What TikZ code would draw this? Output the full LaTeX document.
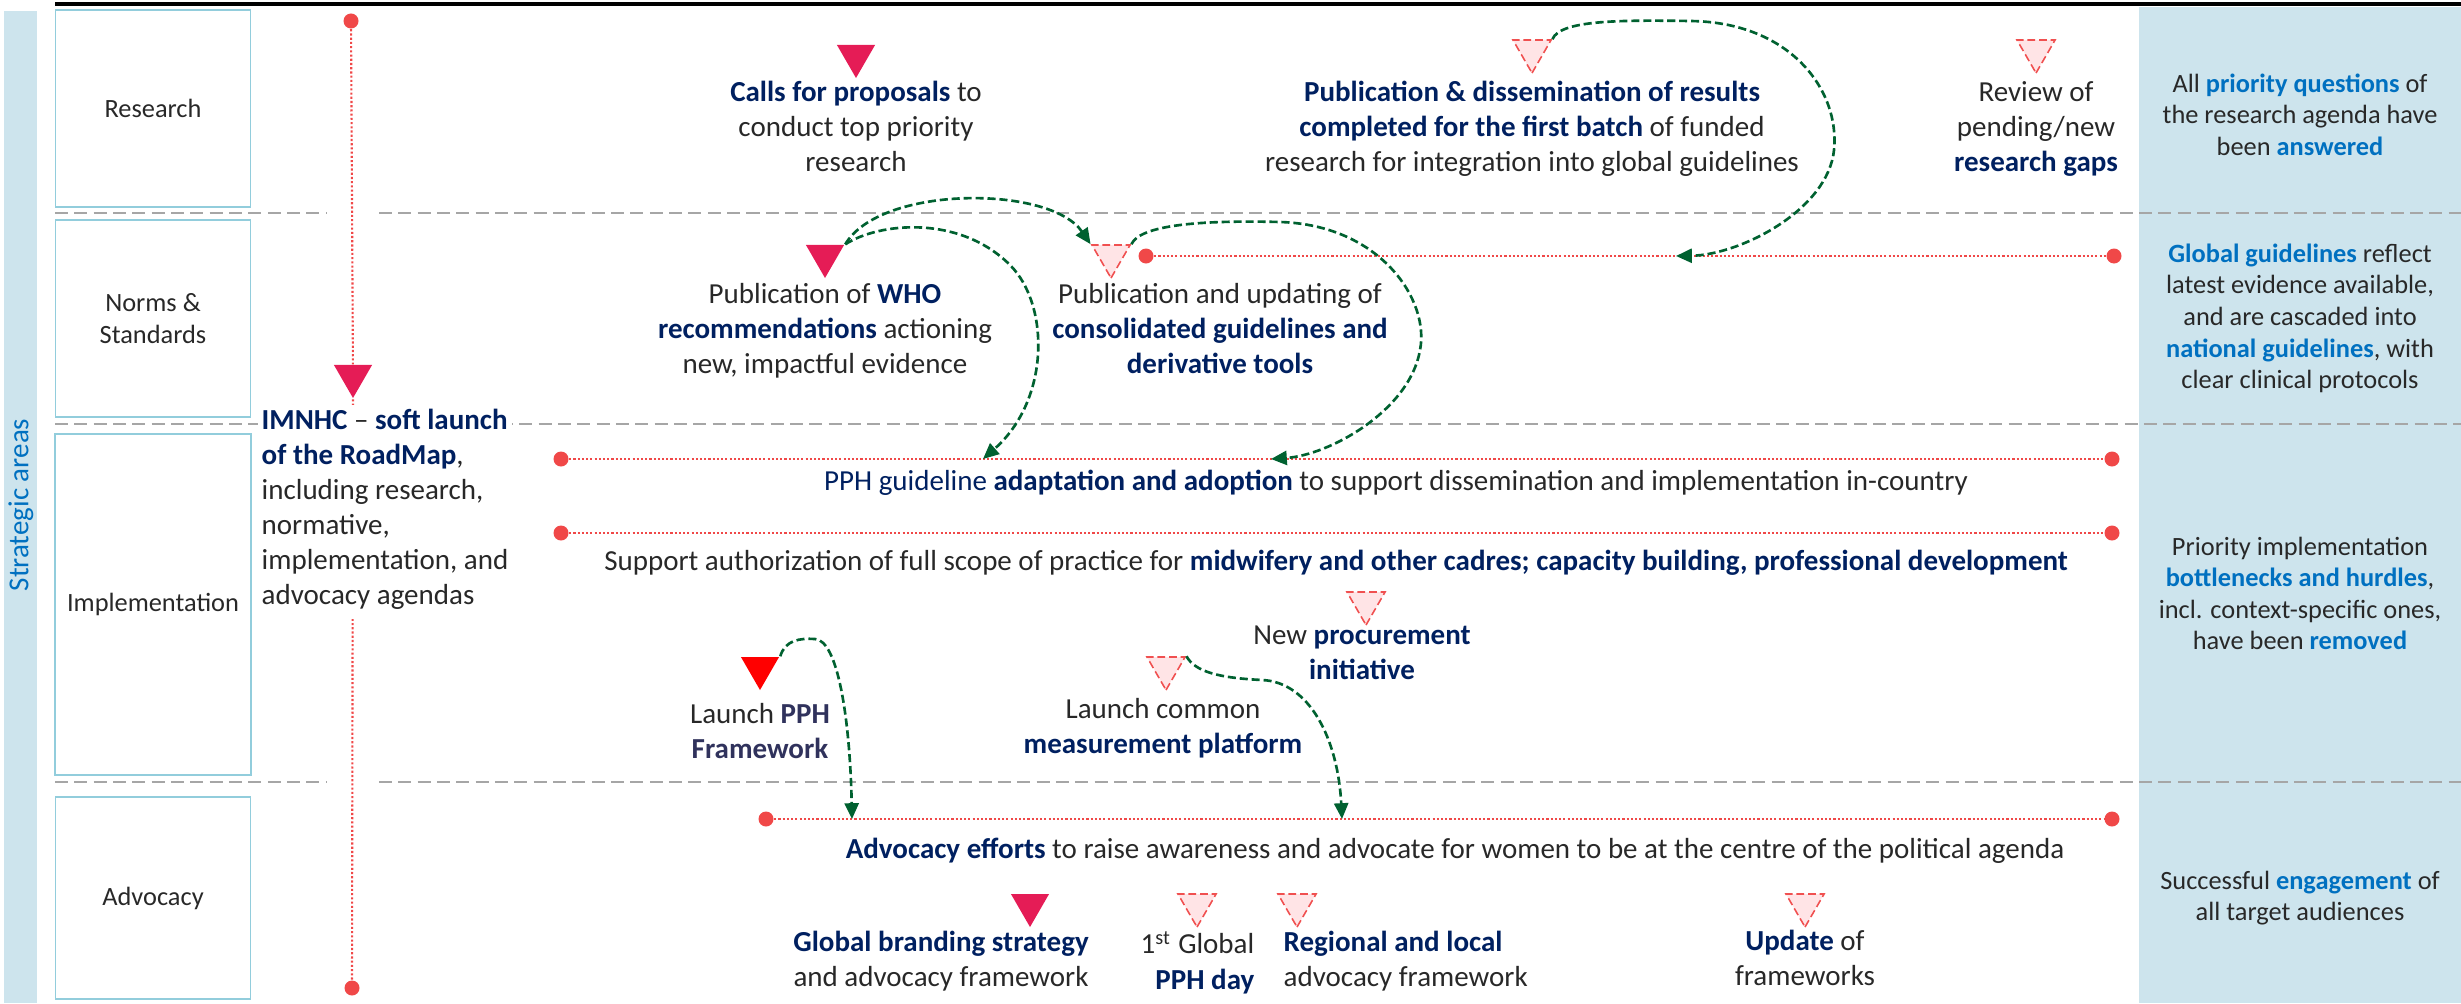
\documentclass[tikz,border=0pt]{standalone}
\usepackage{fontspec}
\setmainfont{Carlito}
\usepackage{tikz}
\usetikzlibrary{positioning, shapes, arrows.meta}
\usepackage{xcolor}

\definecolor{navy}{RGB}{0,32,96}
\definecolor{slate}{RGB}{48,50,92}
\definecolor{hiblue}{RGB}{0,112,192}
\definecolor{txtgray}{RGB}{40,40,40}
\definecolor{areablue}{RGB}{205,228,237}
\definecolor{boxblue}{RGB}{146,205,220}
\definecolor{sepgray}{RGB}{166,166,166}
\definecolor{dotred}{RGB}{240,72,72}
\definecolor{crimson}{RGB}{229,28,86}
\definecolor{pphred}{RGB}{255,0,0}
\definecolor{palefill}{RGB}{255,228,230}
\definecolor{paleedge}{RGB}{240,80,80}
\definecolor{linkgreen}{RGB}{0,97,48}

\newcommand{\midfont}{\fontsize{8.25}{9.96}\selectfont}
\newcommand{\goalfont}{\fontsize{7.5}{9}\selectfont}
\newcommand{\nb}[1]{\textbf{\textcolor{navy}{#1}}}
\newcommand{\bb}[1]{\textbf{\textcolor{hiblue}{#1}}}

\tikzset{
  txt/.style={align=center, anchor=north, inner sep=0pt, font=\midfont, text=txtgray, execute at begin node=\strut},
  goal/.style={txt, font=\goalfont},
  catbox/.style={draw=boxblue, line width=0.5pt, minimum width=1.95cm, font=\goalfont, text=txtgray, align=center},
  sep/.style={draw=sepgray, line width=0.6pt, dash pattern=on 3.7pt off 1.8pt},
  reddot/.style={circle, fill=dotred, inner sep=0pt, minimum size=0.15cm},
  tl/.style={draw=dotred, line width=0.6pt, dash pattern=on 0.6pt off 0.6pt},
  tri/.style={regular polygon, regular polygon sides=3, shape border rotate=180, inner sep=0pt, minimum size=0.44cm},
  keytri/.style={tri, fill=crimson},
  plantri/.style={tri, fill=palefill, draw=paleedge, line width=0.45pt, dash pattern=on 2.2pt off 1.1pt},
  link/.style={draw=linkgreen, line width=0.75pt, dash pattern=on 2.3pt off 1.1pt, -{Triangle[length=4.5pt,width=4pt]}}
}

\begin{document}
\begin{tikzpicture}[x=0.01cm, y=-0.01cm]
    \useasboundingbox (0,0) rectangle (2461,1003);

    \fill[areablue] (4,11) rectangle (37,1003);
    \fill[areablue] (2139,7) rectangle (2461,1003);
    \draw[line width=0.9pt] (55,4) -- (2461,4);

    \draw[sep] (55,213) -- (327,213);
    \draw[sep] (379,213) -- (2461,213);
    \draw[sep] (55,424) -- (2461,424);
    \draw[sep] (55,782) -- (327,782);
    \draw[sep] (379,782) -- (2461,782);

    \node[rotate=90, font=\midfont, text=hiblue] (areas) at (21,505) {Strategic areas};

    \node[catbox, minimum height=1.97cm] (research) at (153,108.5) {Research};
    \node[catbox, minimum height=1.97cm] (norms) at (153,318.5) {Norms \&\\ Standards};
    \node[catbox, minimum height=3.41cm] (impl) at (153,604.5) {Implementation};
    \node[catbox, minimum height=2.02cm] (adv) at (153,898) {Advocacy};

    % timelines
    \node[reddot] (launchtop) at (351,21) {};
    \node[reddot] (launchend) at (352,988) {};
    \node[keytri] (launchtri) at (353,376) {};
    \draw[tl] (launchtop) -- (launchtri);
    \draw[tl] (launchtri) -- (launchend);

    \node[reddot] (normsL) at (1146,256) {};
    \node[reddot] (normsR) at (2114,256) {};
    \node[reddot] (adaptL) at (561,459) {};
    \node[reddot] (adaptR) at (2112,459) {};
    \node[reddot] (scopeL) at (561,533) {};
    \node[reddot] (scopeR) at (2112,533) {};
    \node[reddot] (advL) at (766,819) {};
    \node[reddot] (advR) at (2112,819) {};
    \draw[tl] (normsL) -- (normsR);
    \draw[tl] (adaptL) -- (adaptR);
    \draw[tl] (scopeL) -- (scopeR);
    \draw[tl] (advL) -- (advR);

    \node[txt, align=left, anchor=north west, fill=white, inner sep=0.04cm] (launch) at (257,404.5)
        {\nb{IMNHC} -- \nb{soft launch}\\ \nb{of the RoadMap},\\ including research,\\ normative,\\ implementation, and\\ advocacy agendas};

    \node[keytri] (callstri) at (856,56) {};
    \node[plantri] (pubtri) at (1532,51) {};
    \node[plantri] (reviewtri) at (2036,51) {};
    \node[keytri] (whotri) at (825,256) {};
    \node[plantri] (constri) at (1111,256) {};
    \node[plantri] (procuretri) at (1366,603) {};
    \node[tri, fill=pphred] (pphtri) at (760,668) {};
    \node[plantri] (measuretri) at (1166,668) {};
    \node[keytri] (brandtri) at (1030,905) {};
    \node[plantri] (daytri) at (1197,905) {};
    \node[plantri] (regiontri) at (1297,905) {};
    \node[plantri] (updatetri) at (1805,905) {};

    \node[txt] (calls) at (856,80.5) {\nb{Calls for proposals} to\\ conduct top priority\\ research};
    \node[txt] (pubres) at (1532,80.5) {\nb{Publication \& dissemination of results}\\ \nb{completed for the first batch} of funded\\ research for integration into global guidelines};
    \node[txt] (review) at (2036,80.5) {Review of\\ pending/new\\ \nb{research gaps}};
    \node[txt] (who) at (825,282.5) {Publication of \nb{WHO}\\ \nb{recommendations} actioning\\ new, impactful evidence};
    \node[txt] (cons) at (1220,282.5) {Publication and updating of\\ \nb{consolidated guidelines and}\\ \nb{derivative tools}};
    \node[txt] (adapt) at (1396,465.5) {\textcolor{navy}{PPH guideline} \nb{adaptation and adoption} to support dissemination and implementation in-country};
    \node[txt] (scope) at (1336,545.5) {Support authorization of full scope of practice for \nb{midwifery and other cadres; capacity building, professional development}};
    \node[txt] (procure) at (1362,625.5) {New \nb{procurement}\\ \nb{initiative}};
    \node[txt] (pph) at (760,702.5) {Launch \textbf{\textcolor{slate}{PPH}}\\ \textbf{\textcolor{slate}{Framework}}};
    \node[txt] (measure) at (1163,697.5) {Launch common\\ \nb{measurement platform}};
    \node[txt] (advtext) at (1455,833.5) {\nb{Advocacy efforts} to raise awareness and advocate for women to be at the centre of the political agenda};
    \node[txt] (brand) at (941,930.5) {\nb{Global branding strategy}\\ and advocacy framework};
    \node[txt, anchor=north east, align=right] (day) at (1255,930.5) {1\textsuperscript{st} Global\\ \nb{PPH day}};
    \node[txt, anchor=north west, align=left] (region) at (1283,930.5) {\nb{Regional and local}\\ advocacy framework};
    \node[txt] (update) at (1805,929.5) {\nb{Update} of\\ frameworks};

    \node[goal] (goalres) at (2300,73) {All \bb{priority questions} of\\ the research agenda have\\ been \bb{answered}};
    \node[goal] (goalnorms) at (2300,243) {\bb{Global guidelines} reflect\\ latest evidence available,\\ and are cascaded into\\ \bb{national guidelines}, with\\ clear clinical protocols};
    \node[goal] (goalimpl) at (2300,536) {Priority implementation\\ \bb{bottlenecks and hurdles},\\ incl. context-specific ones,\\ have been \bb{removed}};
    \node[goal] (goaladv) at (2300,870) {Successful \bb{engagement} of\\ all target audiences};

    % links
    \coordinate (normsin) at (1676,256);
    \coordinate (adaptin1) at (983,459);
    \coordinate (adaptin2) at (1271,459);
    \coordinate (advin1) at (852,819);
    \coordinate (advin2) at (1342,819);
    \draw[link] (pubtri.corner 2) .. controls (1560,20) and (1620,20) .. (1690,21) .. controls (1790,22) and (1840,90) .. (1834,150) .. controls (1828,210) and (1740,255) .. (normsin);
    \draw[link] (whotri.corner 2) .. controls (880,185) and (1050,185) .. (constri.corner 3);
    \draw[link] (whotri.corner 2) .. controls (880,222) and (960,215) .. (1010,265) .. controls (1050,305) and (1050,400) .. (adaptin1);
    \draw[link] (constri.corner 2) .. controls (1140,225) and (1200,220) .. (1280,222) .. controls (1380,225) and (1430,300) .. (1420,350) .. controls (1410,410) and (1330,455) .. (adaptin2);
    \draw[link] (pphtri.corner 2) .. controls (785,640) and (800,638) .. (815,639) .. controls (838,640) and (850,720) .. (advin1);
    \draw[link] (measuretri.corner 2) .. controls (1195,672) and (1220,678) .. (1262,680) .. controls (1310,682) and (1338,740) .. (advin2);
\end{tikzpicture}
\end{document}
